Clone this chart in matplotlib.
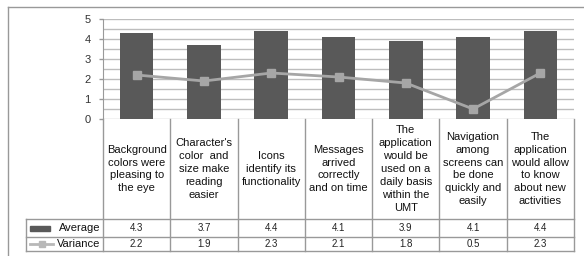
import matplotlib
matplotlib.use("Agg")
import matplotlib.pyplot as plt
from matplotlib.lines import Line2D
from matplotlib.patches import Rectangle
import numpy as np

plt.rcParams['font.family'] = ['Liberation Sans', 'DejaVu Sans']

categories = [
    "Background\ncolors were\npleasing to\nthe eye",
    "Character's\ncolor  and\nsize make\nreading\neasier",
    "Icons\nidentify its\nfunctionality",
    "Messages\narrived\ncorrectly\nand on time",
    "The\napplication\nwould be\nused on a\ndaily basis\nwithin the\nUMT",
    "Navigation\namong\nscreens can\nbe done\nquickly and\neasily",
    "The\napplication\nwould allow\nto know\nabout new\nactivities",
]
average = [4.3, 3.7, 4.4, 4.1, 3.9, 4.1, 4.4]
variance = [2.2, 1.9, 2.3, 2.1, 1.8, 0.5, 2.3]
series_names = ["Average", "Variance"]
yticks = [0, 1, 2, 3, 4, 5]

W, H = 584, 256
fig = plt.figure(figsize=(W / 100, H / 100), dpi=100)

def fx(px):
    return px / W

def fy(py):
    return 1 - py / H

bar_color = "#595959"
line_color = "#a6a6a6"
grid_color = "#bdbdbd"
edge_color = "#999999"

# outer frame (left and top visible)
fig.add_artist(Line2D([fx(8), fx(8)], [fy(7), fy(256)], color=edge_color, lw=1, transform=fig.transFigure))
fig.add_artist(Line2D([fx(8), fx(584)], [fy(7), fy(7)], color=edge_color, lw=1, transform=fig.transFigure))

# chart axes
left, right, top, bot = 103, 574, 19, 119
ax = fig.add_axes([fx(left), fy(bot), fx(right - left), (bot - top) / H])
x = np.arange(len(categories))
ax.set_xlim(-0.5, len(categories) - 0.5)
ax.set_ylim(0, 5)
for g in np.arange(0, 5.01, 0.5):
    ax.axhline(g, color=grid_color, lw=1, zorder=0)
ax.bar(x, average, width=0.5, color=bar_color, zorder=2)
ax.plot(x, variance, color=line_color, lw=2, marker="s", markersize=5.5, zorder=3)
ax.set_yticks(yticks)
ax.set_yticklabels([str(t) for t in yticks], fontsize=8, color="#333333")
ax.tick_params(axis="y", length=3, width=1, color=edge_color, pad=6)
ax.set_xticks([])
for s in ["top", "right", "bottom"]:
    ax.spines[s].set_visible(False)
ax.spines["left"].set_color(edge_color)

# table axes
t_top, t_bot = 119, 251
tax = fig.add_axes([fx(left), fy(t_bot), fx(right - left), (t_bot - t_top) / H])
tax.set_xlim(-0.5, len(categories) - 0.5)
tax.set_ylim(t_bot - t_top, 0)
tax.axis("off")
col_w = (right - left) / len(categories)
leg_left = -0.5 - (left - 26) / col_w
r1, r2, r3 = 100, 118, 132

def hline(y, x0, x1):
    tax.add_line(Line2D([x0, x1], [y, y], color=edge_color, lw=1, clip_on=False))

def vline(xv, y0, y1):
    tax.add_line(Line2D([xv, xv], [y0, y1], color=edge_color, lw=1, clip_on=False))

for i in range(len(categories) + 1):
    vline(i - 0.5, 0, r3)
vline(leg_left, r1, r3)
hline(r1, leg_left, len(categories) - 0.5)
hline(r2, leg_left, len(categories) - 0.5)
hline(r3, leg_left, len(categories) - 0.5)

for i, c in enumerate(categories):
    tax.text(i, r1 / 2, c, ha="center", va="center", fontsize=8, linespacing=1.36, color="#111111")
    tax.text(i, (r1 + r2) / 2, f"{average[i]:.1f}", ha="center", va="center", fontsize=7, color="#222222")
    tax.text(i, (r2 + r3) / 2, f"{variance[i]:.1f}", ha="center", va="center", fontsize=7, color="#222222")

# legend keys
px = lambda p: leg_left + (p - 26) / col_w
tax.add_patch(Rectangle((px(30), (r1 + r2) / 2 - 2.5), (50 - 30) / col_w, 5, color=bar_color, clip_on=False))
tax.add_line(Line2D([px(30), px(53)], [(r2 + r3) / 2] * 2, color="#b8b8b8", lw=2, clip_on=False))
tax.add_line(Line2D([px(41.5)], [(r2 + r3) / 2], color="#b8b8b8", marker="s", markersize=5, clip_on=False))
tax.text(px(59), (r1 + r2) / 2, series_names[0], ha="left", va="center", fontsize=8, color="#111111")
tax.text(px(57), (r2 + r3) / 2, series_names[1], ha="left", va="center", fontsize=8, color="#111111")

fig.savefig("out.png", dpi=100)
